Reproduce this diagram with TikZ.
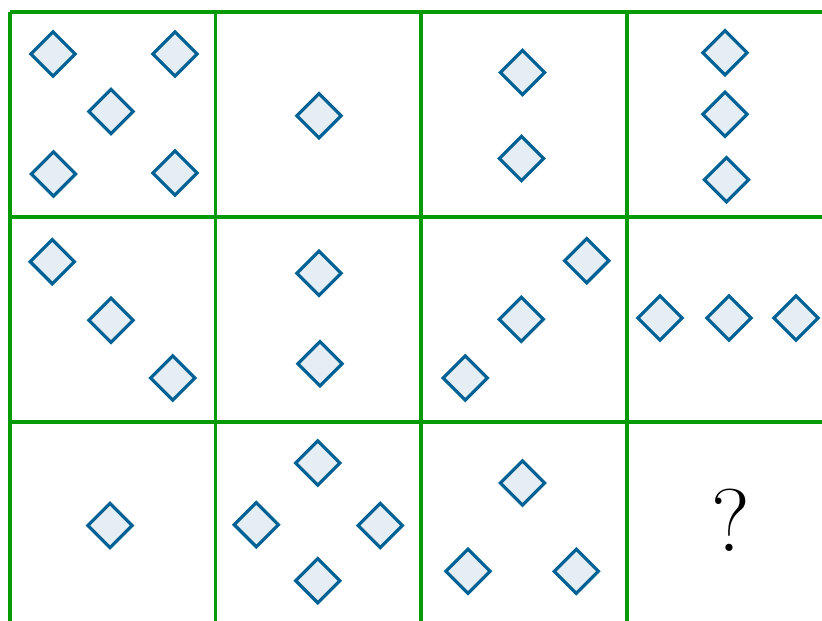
\documentclass[tikz,border=0pt]{standalone}
\usetikzlibrary{shapes.geometric}
\definecolor{gridgreen}{RGB}{6,155,6}
\definecolor{dstroke}{RGB}{0,98,148}
\definecolor{dfill}{RGB}{230,238,245}
\tikzset{
  gridline/.style={draw=gridgreen, line width=3.2pt},
  dia/.style={diamond, aspect=1, draw=dstroke, fill=dfill, line width=3.2pt,
              inner sep=0pt, minimum size=45.5pt},
  qmark/.style={inner sep=0pt, font=\fontsize{89}{89}\selectfont}
}
\begin{document}
\begin{tikzpicture}[x=1pt,y=-1pt]
\clip (0,0) rectangle (822,621);
\fill[white] (0,0) rectangle (822,621);
% grid
\foreach \x in {10,215.5,421,627,832.5} \draw[gridline] (\x,12) -- (\x,640);
\foreach \y in {12,217,422,627} \draw[gridline] (10,\y) -- (840,\y);
% row 1
\node[dia] (a1) at (53,54) {};
\node[dia] (a2) at (175,54) {};
\node[dia] (a3) at (111,111.5) {};
\node[dia] (a4) at (53.5,174) {};
\node[dia] (a5) at (175,173) {};
\node[dia] (b1) at (319,115.7) {};
\node[dia] (c1) at (522.5,72.5) {};
\node[dia] (c2) at (521.5,158.5) {};
\node[dia] (e1) at (725,52.7) {};
\node[dia] (e2) at (725,114.3) {};
\node[dia] (e3) at (726.5,179.7) {};
% row 2
\node[dia] (f1) at (52.3,261.7) {};
\node[dia] (f2) at (111,320.3) {};
\node[dia] (f3) at (172.7,378) {};
\node[dia] (g1) at (319,273.3) {};
\node[dia] (g2) at (320,363.7) {};
\node[dia] (h1) at (586.7,260.7) {};
\node[dia] (h2) at (521.3,319.3) {};
\node[dia] (h3) at (465.3,378) {};
\node[dia] (k1) at (660,318) {};
\node[dia] (k2) at (729,318) {};
\node[dia] (k3) at (796,318) {};
% row 3
\node[dia] (m1) at (110,525.5) {};
\node[dia] (n1) at (317.8,463) {};
\node[dia] (n2) at (256.3,524.7) {};
\node[dia] (n3) at (380.2,525.5) {};
\node[dia] (n4) at (317.8,580.7) {};
\node[dia] (p1) at (522.5,483) {};
\node[dia] (p2) at (468,571.3) {};
\node[dia] (p3) at (576.3,571.3) {};
\node[qmark] (q) at (731,520) {?};
\end{tikzpicture}
\end{document}
